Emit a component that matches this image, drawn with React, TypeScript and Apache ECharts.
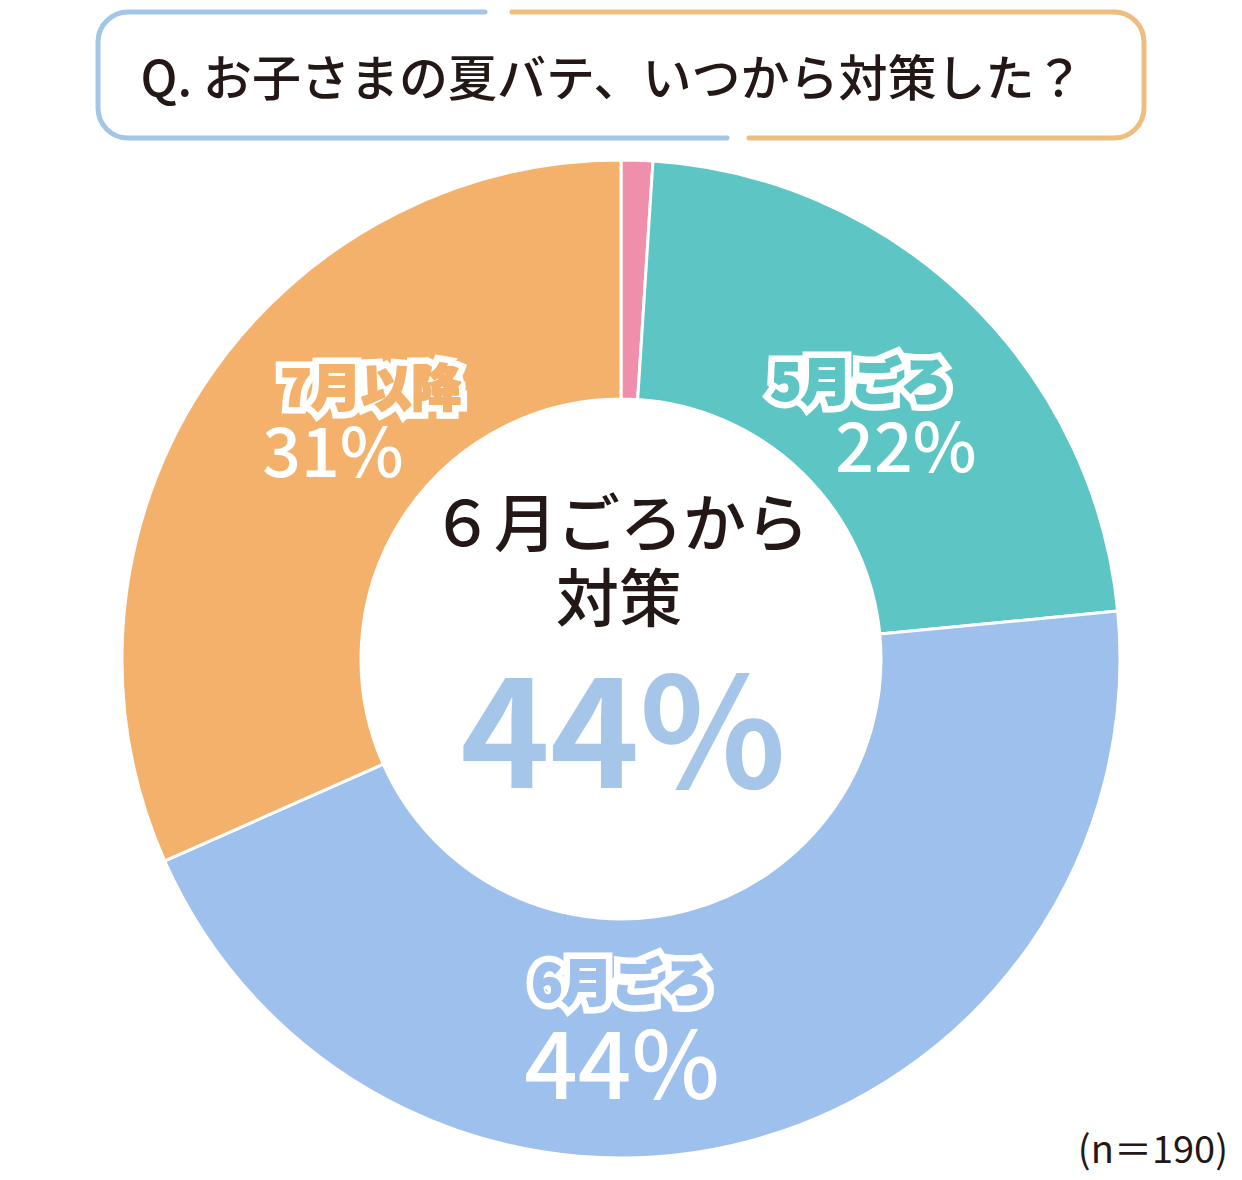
import React, { useEffect, useRef } from "react";
import * as echarts from "echarts";

const categories = ["その他", "5月ごろ", "6月ごろ", "7月以降"];
const values = [1, 22, 44, 31];
const percentLabels = ["", "22%", "44%", "31%"];
const sliceColors = ["#ef8fab", "#5dc5c4", "#9ec0ec", "#f3b16c"];
const titleText = "Q. お子さまの夏バテ、いつから対策した？";
const centerLines = ["６月ごろから", "対策"];
const highlightIndex = 2;
const sampleNote = "(n＝190)";

const labelPos: Record<number, { nameXY: [number, number]; pctXY: [number, number]; pctSize: number }> = {
  1: { nameXY: [861, 378], pctXY: [906, 442], pctSize: 68 },
  2: { nameXY: [622, 979], pctXY: [622, 1058], pctSize: 94 },
  3: { nameXY: [371, 384], pctXY: [333, 447], pctSize: 68 },
};

const FONT = '"Noto Sans CJK JP", "Noto Sans", sans-serif';

export default function App() {
  const ref = useRef<HTMLDivElement>(null);
  useEffect(() => {
    document.body.style.margin = "0";
    const chart = echarts.init(ref.current!, null, { renderer: "svg" });
    const blueD = "M485 12 L128 12 A30 30 0 0 0 98 42 L98 108 A30 30 0 0 0 128 138 L727 138";
    const orangeD = "M512 12 L1114 12 A30 30 0 0 1 1144 42 L1144 108 A30 30 0 0 1 1114 138 L749 138";
    echarts.graphic.registerShape("frameBlue", echarts.graphic.extendPath(blueD, {}) as any);
    echarts.graphic.registerShape("frameOrange", echarts.graphic.extendPath(orangeD, {}) as any);

    const outlineEls: any[] = [];
    const fillEls: any[] = [];
    for (let i = 1; i < categories.length; i++) {
      const p = labelPos[i];
      outlineEls.push({
        type: "text",
        z: 10,
        style: {
          text: categories[i],
          x: p.nameXY[0],
          y: p.nameXY[1],
          textAlign: "center",
          textVerticalAlign: "middle",
          font: `900 50px ${FONT}`,
          fill: "#ffffff",
          stroke: "#ffffff",
          lineWidth: 15,
          lineJoin: "round",
        },
      });
      fillEls.push({
        type: "text",
        z: 10,
        style: {
          text: categories[i],
          x: p.nameXY[0],
          y: p.nameXY[1],
          textAlign: "center",
          textVerticalAlign: "middle",
          font: `900 50px ${FONT}`,
          fill: sliceColors[i],
          stroke: sliceColors[i],
          lineWidth: 2,
          lineJoin: "round",
        },
      });
      fillEls.push({
        type: "text",
        z: 10,
        style: {
          text: percentLabels[i],
          x: p.pctXY[0],
          y: p.pctXY[1],
          textAlign: "center",
          textVerticalAlign: "middle",
          font: `500 ${p.pctSize}px ${FONT}`,
          fill: "#ffffff",
        },
      });
    }

    chart.setOption({
      animation: false,
      series: [
        {
          type: "pie",
          center: [621, 659],
          radius: [260, 499],
          startAngle: 90,
          clockwise: true,
          silent: true,
          label: { show: false },
          labelLine: { show: false },
          itemStyle: { borderColor: "#ffffff", borderWidth: 3 },
          data: categories.map((c, i) => ({
            name: c,
            value: values[i],
            itemStyle: { color: sliceColors[i] },
          })),
        },
      ],
      graphic: [
        {
          type: "frameBlue",
          style: { fill: "none", stroke: "#a3c6e8", lineWidth: 5, lineCap: "round" },
        },
        {
          type: "frameOrange",
          style: { fill: "none", stroke: "#efbd80", lineWidth: 5, lineCap: "round" },
        },
        {
          type: "text",
          style: {
            text: titleText,
            x: 612,
            y: 74,
            textAlign: "center",
            textVerticalAlign: "middle",
            font: `500 49px ${FONT}`,
            fill: "#231815",
          },
        },
        {
          type: "text",
          style: {
            text: centerLines[0],
            x: 620,
            y: 518,
            textAlign: "center",
            textVerticalAlign: "middle",
            font: `500 63px ${FONT}`,
            fill: "#231815",
          },
        },
        {
          type: "text",
          style: {
            text: centerLines[1],
            x: 619,
            y: 593,
            textAlign: "center",
            textVerticalAlign: "middle",
            font: `500 63px ${FONT}`,
            fill: "#231815",
          },
        },
        {
          type: "text",
          style: {
            text: `${values[highlightIndex]}%`,
            x: 623,
            y: 722,
            textAlign: "center",
            textVerticalAlign: "middle",
            font: `bold 152px ${FONT}`,
            fill: "#a5c6e9",
          },
        },
        ...outlineEls,
        ...fillEls,
        {
          type: "text",
          style: {
            text: sampleNote,
            x: 1228,
            y: 1146,
            textAlign: "right",
            textVerticalAlign: "middle",
            font: `400 38px ${FONT}`,
            fill: "#231815",
          },
        },
      ],
    });
    return () => chart.dispose();
  }, []);
  return <div ref={ref} style={{ width: 1242, height: 1180 }} />;
}
